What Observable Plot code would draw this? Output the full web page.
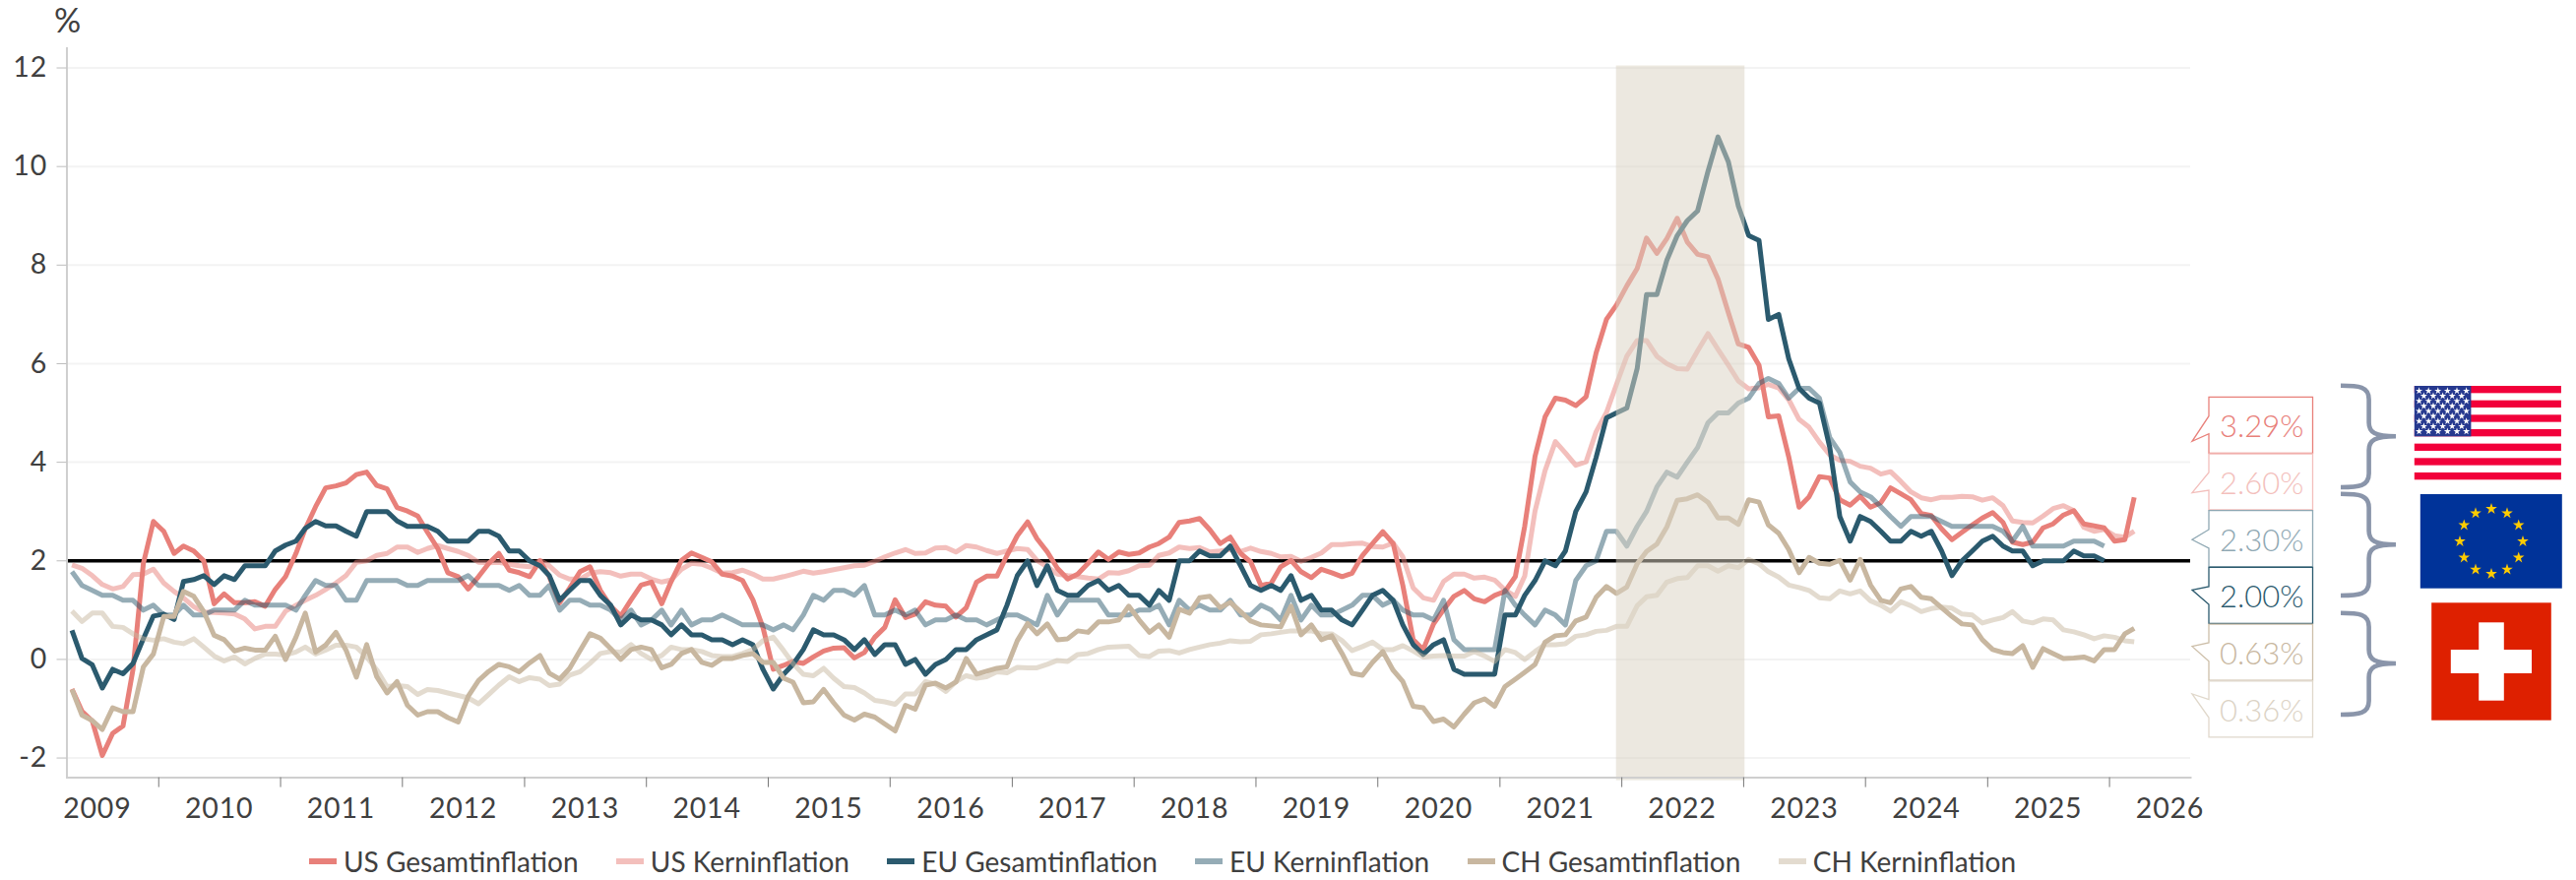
<!DOCTYPE html>
<html lang="de">
<head>
<meta charset="utf-8">
<title>Inflation</title>
<script src="https://cdn.jsdelivr.net/npm/d3@7"></script>
<script src="https://cdn.jsdelivr.net/npm/@observablehq/plot@0.6"></script>
<style>
html,body{margin:0;padding:0;background:#fff;overflow:hidden;width:2617px;height:894px}
#chart{position:relative;height:850px}
#chart svg{display:block}
#chart svg text{letter-spacing:.8px}
#legend{position:absolute;left:314px;top:856px;height:38px;display:flex;align-items:center;gap:38.3px;font:400 28px Lato,sans-serif;color:#404040;white-space:nowrap}
#legend .i{display:flex;align-items:center;gap:7px}
#legend .s{width:28px;height:6px;display:block}
</style>
</head>
<body>
<div id="chart"></div>
<div id="legend"></div>
<script>
// Monthly year-on-year rates, first value April 2009
const usTotal = [-0.6,-1.05,-1.25,-1.95,-1.5,-1.35,-0.2,1.95,2.8,
2.6,2.15,2.3,2.2,2.0,1.13,1.33,1.15,1.15,1.17,1.08,1.42,
1.68,2.15,2.65,3.1,3.48,3.52,3.58,3.75,3.8,3.53,3.46,3.08,
3.01,2.91,2.58,2.25,1.76,1.68,1.43,1.68,1.95,2.15,1.81,1.76,
1.68,2.0,1.68,1.15,1.45,1.78,1.88,1.4,1.08,.88,1.21,1.51,
1.57,1.13,1.58,2.01,2.16,2.07,1.98,1.73,1.69,1.6,1.21,.65,
-.2,-.12,-.04,-.08,.05,.17,.23,.24,.03,.14,.45,.65,
1.21,.85,.92,1.17,1.1,1.08,.86,1.05,1.57,1.69,1.69,2.11,
2.51,2.79,2.45,2.18,1.85,1.63,1.73,1.95,2.18,2.03,2.18,2.13,
2.16,2.28,2.35,2.48,2.78,2.81,2.86,2.63,2.35,2.48,2.15,1.98,
1.5,1.55,1.88,2.01,1.78,1.66,1.83,1.76,1.68,1.75,2.11,2.35,
2.59,2.35,1.5,.4,.2,.72,1.01,1.28,1.4,1.23,1.17,1.3,
1.38,1.68,2.7,4.12,4.92,5.3,5.26,5.15,5.33,6.22,6.9,7.19,
7.58,7.93,8.55,8.24,8.54,8.95,8.47,8.22,8.17,7.72,7.04,6.4,
6.33,5.97,4.92,4.94,4.11,3.09,3.3,3.71,3.68,3.24,3.13,3.31,
3.09,3.18,3.48,3.36,3.24,2.96,2.92,2.65,2.43,2.58,2.73,2.87,
2.98,2.78,2.38,2.33,2.38,2.67,2.75,2.93,3.02,2.75,2.71,2.67,
2.4,2.43,3.29];
const usCore = [1.92,1.85,1.7,1.52,1.43,1.48,1.72,1.73,1.83,
1.55,1.38,1.25,1.07,.96,.95,.94,.92,.82,.62,.67,.67,
.98,1.1,1.2,1.3,1.42,1.55,1.7,1.97,2.0,2.11,2.15,2.28,
2.28,2.17,2.25,2.31,2.25,2.19,2.11,1.97,1.96,1.97,1.93,1.9,
1.88,2.01,1.9,1.71,1.63,1.63,1.75,1.78,1.76,1.69,1.73,1.73,
1.63,1.57,1.61,1.83,1.95,1.93,1.85,1.75,1.76,1.81,1.73,1.63,
1.63,1.68,1.73,1.79,1.75,1.78,1.82,1.86,1.9,1.91,1.99,2.08,
2.16,2.23,2.15,2.16,2.26,2.27,2.18,2.31,2.28,2.21,2.15,2.2,
2.25,2.23,2.01,1.88,1.73,1.7,1.68,1.65,1.63,1.76,1.75,1.8,
1.9,1.91,2.11,2.16,2.28,2.25,2.27,2.18,2.2,2.23,2.19,2.26,
2.19,2.15,2.08,2.09,1.99,2.07,2.16,2.33,2.33,2.35,2.36,2.29,
2.28,2.36,2.08,1.45,1.25,1.2,1.58,1.73,1.73,1.65,1.67,1.61,
1.41,1.28,1.69,3.01,3.83,4.42,4.19,3.94,4.01,4.62,5.01,5.58,
6.15,6.47,6.47,6.15,6.0,5.9,5.89,6.26,6.61,6.29,5.97,5.65,
5.49,5.51,5.58,5.51,5.27,4.87,4.71,4.41,4.15,4.04,4.02,3.92,
3.88,3.76,3.81,3.61,3.4,3.28,3.24,3.29,3.29,3.31,3.3,3.23,
3.28,3.12,2.81,2.78,2.77,2.91,3.06,3.12,3.02,2.68,2.6,2.64,
2.51,2.48,2.6];
const euTotal = [.59,.02,-.11,-.58,-.2,-.29,-.08,.42,.88,
.92,.81,1.58,1.62,1.7,1.52,1.7,1.62,1.9,1.9,1.9,2.2,
2.32,2.4,2.66,2.8,2.71,2.71,2.6,2.5,3,3,3,2.81,
2.7,2.7,2.7,2.6,2.4,2.4,2.4,2.6,2.6,2.5,2.2,2.2,
2.0,1.9,1.7,1.2,1.4,1.6,1.6,1.3,1.1,.7,.9,.8,
.8,.7,.5,.7,.5,.5,.4,.4,.3,.4,.3,-.2,
-.6,-.3,-.1,.2,.6,.5,.5,.4,.2,.4,.1,.3,
.3,-.1,0,-.3,-.1,0,.2,.2,.4,.5,.6,1.1,
1.7,2.0,1.5,1.9,1.4,1.3,1.3,1.5,1.6,1.4,1.5,1.3,
1.3,1.1,1.4,1.2,2,2,2.2,2.1,2.1,2.3,1.9,1.5,
1.4,1.5,1.4,1.7,1.2,1.3,1,1,.8,.7,1,1.3,
1.4,1.2,.7,.3,.1,.3,.4,-.2,-.3,-.3,-.3,-.3,
.9,.9,1.3,1.6,2,1.9,2.2,3,3.4,4.1,4.9,5,
5.1,5.9,7.4,7.4,8.1,8.6,8.9,9.1,9.9,10.6,10.1,9.2,
8.6,8.5,6.9,7,6.1,5.5,5.3,5.2,4.3,2.9,2.4,2.9,
2.8,2.6,2.4,2.4,2.6,2.5,2.6,2.2,1.7,2,2.2,2.4,
2.5,2.3,2.2,2.2,1.9,2,2,2,2.2,2.1,2.1,2];
const euCore = [1.78,1.5,1.4,1.3,1.3,1.2,1.2,1,1.1,
.9,.9,1.1,.9,.9,1,1,1,1.2,1.1,1.1,1.1,
1.1,1,1.3,1.6,1.5,1.5,1.2,1.2,1.6,1.6,1.6,1.6,
1.5,1.5,1.6,1.6,1.6,1.6,1.7,1.5,1.5,1.5,1.4,1.5,
1.3,1.3,1.5,1,1.2,1.2,1.1,1.1,1,.8,1,.7,
.8,1,.7,1,.7,.8,.8,.9,.8,.7,.7,.7,
.6,.7,.6,.9,1.3,1.2,1.4,1.4,1.3,1.5,.9,.9,
1,.9,1,.7,.8,.8,.9,.8,.8,.7,.8,.9,
.9,.8,.7,1.3,.9,1.2,1.2,1.2,1.2,.9,.9,.9,
1,1,1.1,.7,1.2,1,1.1,1,1,1.2,.9,.9,
1.1,1,.8,1.3,.8,1.1,.9,.9,1,1.1,1.3,1.3,
1.1,1.2,1,.9,.9,.8,1.2,.4,.2,.2,.2,.2,
1.4,1.1,.9,.7,1,.9,.7,1.6,1.9,2,2.6,2.6,
2.3,2.7,3,3.5,3.8,3.7,4,4.3,4.8,5,5,5.2,
5.3,5.6,5.7,5.6,5.3,5.5,5.5,5.3,4.5,4.2,3.6,3.4,
3.3,3.1,2.9,2.7,2.9,2.9,2.9,2.8,2.7,2.7,2.7,2.7,
2.7,2.6,2.4,2.7,2.3,2.3,2.3,2.3,2.4,2.4,2.4,2.3];
const chTotal = [-.61,-1.13,-1.24,-1.42,-.98,-1.06,-1.06,-.15,.11,
.87,.87,1.38,1.28,.97,.49,.4,.17,.23,.19,.19,.47,
0,.45,.94,.15,.29,.55,.19,-.36,.3,-.35,-.68,-.45,
-.93,-1.13,-1.06,-1.06,-1.18,-1.27,-.75,-.43,-.24,-.1,-.15,-.25,
-.07,.08,-.28,-.4,-.18,.18,.52,.43,.22,0,.2,.25,
.2,-.17,-.1,.12,.2,-.06,-.12,.02,.02,.08,.12,-.06,
-.06,-.38,-.46,-.88,-.86,-.61,-.88,-1.13,-1.23,-1.11,-1.17,-1.31,
-1.45,-.93,-1.01,-.52,-.48,-.58,-.46,.02,-.3,-.24,-.18,-.15,
.38,.73,.52,.72,.4,.42,.58,.55,.76,.76,.8,1.08,
.8,.55,.7,.45,1.02,.94,1.25,1.28,1.05,1.16,.97,.78,
.7,.68,.66,1.08,.5,.7,.4,.48,.12,-.28,-.32,-.06,
.16,-.22,-.45,-.95,-.98,-1.26,-1.21,-1.37,-1.11,-.88,-.8,-.95,
-.55,-.4,-.26,-.1,.35,.48,.5,.78,.86,1.26,1.48,1.34,
1.47,1.94,2.19,2.34,2.69,3.23,3.26,3.34,3.19,2.87,2.87,2.74,
3.24,3.19,2.73,2.56,2.23,1.76,2.07,1.95,1.93,2.01,1.61,2.03,
1.51,1.2,1.15,1.43,1.48,1.26,1.23,1.05,.87,.72,.7,.4,
.2,.14,.12,.28,-.16,.22,.12,.02,.03,.05,-.03,.2,
.2,.52,.63];
const chCore = [.98,.77,.94,.94,.67,.65,.52,.42,.39,
.42,.35,.32,.42,.25,.07,-.03,.05,-.09,.02,.11,.11,
.09,.15,.25,.11,.19,.29,.29,.25,.05,-.21,-.55,-.53,
-.55,-.71,-.61,-.63,-.68,-.73,-.78,-.9,-.71,-.52,-.35,-.45,
-.37,-.4,-.53,-.5,-.32,-.25,-.08,.12,.16,.15,.3,.12,
0,.08,.25,.2,.2,.16,.08,.06,.06,.12,.2,.38,
.45,.18,-.08,-.3,-.33,-.18,-.38,-.55,-.57,-.68,-.83,-.86,
-.91,-.7,-.7,-.45,-.5,-.65,-.45,-.33,-.38,-.35,-.25,-.27,
-.16,-.17,-.17,-.1,-.02,-.04,.1,.12,.2,.25,.26,.27,
.08,.06,.17,.18,.13,.2,.25,.3,.33,.38,.36,.37,
.5,.52,.55,.58,.58,.58,.52,.52,.38,.18,.26,.35,
.2,.2,.28,.17,.05,.07,.08,.07,.07,.16,.07,-.04,
.2,.14,0,.16,.3,.3,.32,.47,.5,.57,.59,.67,
.67,1.09,1.27,1.3,1.57,1.64,1.66,1.9,1.9,1.79,1.9,1.86,
2.03,1.94,1.78,1.67,1.51,1.46,1.4,1.25,1.23,1.39,1.33,1.39,
1.19,1.1,.98,1.17,1.09,.97,1.03,1.06,1.04,.92,.9,.74,
.8,.85,.97,.78,.74,.82,.8,.6,.56,.5,.42,.48,
.45,.38,.36];

const seriesNames = ["US Gesamtinflation","US Kerninflation","EU Gesamtinflation","EU Kerninflation","CH Gesamtinflation","CH Kerninflation"];
const seriesValues = [usTotal,usCore,euTotal,euCore,chTotal,chCore];
const seriesColors = ["#e8807a","#e8807a","#2b5a6e","#2b5a6e","#c8b7a0","#c8b7a0"];
const seriesOpacity = [1,.5,1,.5,1,.5];
const legendColors = ["#e8807a","#f3bfbc","#2b5a6e","#95acb6","#c8b7a0","#e3dbcf"];
const calloutLabels = ["3.29%","2.60%","2.30%","2.00%","0.63%","0.36%"];
const calloutColors = ["#e8807a","#f3bfbc","#8fa8b3","#2b5a6e","#cdbfa9","#e0d8cb"];
const calloutText = ["#e8807a","#f3bfbc","#8fa8b3","#2b5a6e","#c8b7a0","#dcd3c5"];
const yTicks = [-2,0,2,4,6,8,10,12];
const years = d3.range(2009,2027);
const target = 2;
const shadeStart = new Date(Date.UTC(2021,11,16));
const shadeEnd = new Date(Date.UTC(2023,0,5));

const monthDate = i => new Date(Date.UTC(2009,3+i,16));
const utc = (y,m) => new Date(Date.UTC(y,m,1));
const tickDates = years.slice(1).map(y => utc(y,0));
const labelDates = years.map(y => utc(y,6));

// Layout of the annotation column on the right (pixels)
const box = {x:2244,w:105.5,top:403.3,step:57.7,h:57};
const tipX = 2227;
const tips = [[448.3,422.7,440.7],[500.7,480,498],[548.3,538,557],[599.3,596,614],[656.7,653,671.7],[705,710.7,729]];
const braces = [[391.7,443.3,495],[501.7,553.3,605],[622.7,674,726]];

function annotations(index, scales, values, dim, ctx){
  const g = d3.select(ctx.document.createElementNS("http://www.w3.org/2000/svg","g"));
  calloutLabels.forEach((lab,k)=>{
    const t = box.top + k*box.step, b = t + box.h, [ty,b1,b2] = tips[k], x0 = box.x, x1 = box.x+box.w;
    g.append("path")
      .attr("d",`M${x0},${t}H${x1}V${b}H${x0}V${b2}L${tipX},${ty}L${x0},${b1}Z`)
      .attr("fill","#fff").attr("stroke",calloutColors[k]).attr("stroke-width",1.3);
    g.append("text").attr("x",x0+(x1-x0)/2+1).attr("y",t+box.h/2+0.5)
      .attr("text-anchor","middle").attr("dominant-baseline","central").style("letter-spacing","0")
      .attr("font-size",31).attr("font-weight",300).attr("fill",calloutText[k]).text(lab);
  });
  braces.forEach(([t,m,b])=>{
    const xl=2378,xs=2406.6,xr=2434;
    g.append("path").attr("fill","none").attr("stroke","#8a95aa").attr("stroke-width",4.6)
     .attr("d",`M${xl},${t}C${xs-10},${t} ${xs},${t+1} ${xs},${t+14}V${m-14}C${xs},${m-4} ${xs+6},${m} ${xr},${m}C${xs+6},${m} ${xs},${m+4} ${xs},${m+14}V${b-14}C${xs},${b-1} ${xs-10},${b} ${xl},${b}`);
  });
  const us = {x:2452.8,y:392,w:149.1,h:95.3};
  g.append("rect").attr("x",us.x).attr("y",us.y).attr("width",us.w).attr("height",us.h).attr("fill","#fff");
  for(let s=0;s<13;s+=2) g.append("rect").attr("x",us.x).attr("y",us.y+s*us.h/13).attr("width",us.w).attr("height",us.h/13).attr("fill","#f2003a");
  const cw=57.6, ch=us.h*7/13;
  g.append("rect").attr("x",us.x).attr("y",us.y).attr("width",cw).attr("height",ch).attr("fill","#26398f");
  const smallStar = d3.symbol(d3.symbolStar,16)();
  for(let r=0;r<9;r++){
    const n = r%2?5:6;
    for(let c=0;c<n;c++){
      g.append("path").attr("d",smallStar).attr("fill","#fff")
       .attr("transform",`translate(${us.x+(r%2?2:1)*cw/12+c*cw/6},${us.y+(r+1)*ch/10})`);
    }
  }
  g.append("rect").attr("x",2458.8).attr("y",502).attr("width",144).attr("height",95.7).attr("fill","#003399");
  const euStar = d3.symbol(d3.symbolStar,42)();
  for(let k=0;k<12;k++){
    const a = k*Math.PI/6;
    g.append("path").attr("d",euStar).attr("fill","#ffcc00")
     .attr("transform",`translate(${2531+32*Math.sin(a)},${550-33*Math.cos(a)})`);
  }
  g.append("rect").attr("x",2470.2).attr("y",612.3).attr("width",121.6).attr("height",119.4).attr("fill","#de2000");
  g.append("rect").attr("x",2489.8).attr("y",660).attr("width",82.2).attr("height",24).attr("fill","#fff");
  g.append("rect").attr("x",2518.2).attr("y",632.3).attr("width",25.6).attr("height",79.4).attr("fill","#fff");
  return g.node();
}

const lineMarks = seriesValues.map((vals,k)=>Plot.line(vals.map((v,i)=>({date:monthDate(i),v})),{
  x:"date",y:"v",stroke:seriesColors[k],strokeOpacity:seriesOpacity[k],strokeWidth:5,strokeLinecap:"butt",strokeLinejoin:"round"
}));

const plot = Plot.plot({
  width:2617,height:850,
  marginLeft:67.5,marginRight:392,marginTop:48.5,marginBottom:60.4,
  style:{fontFamily:"Lato, sans-serif",color:"#404040",background:"#fff",overflow:"visible"},
  x:{type:"utc",domain:[utc(2009,3),utc(2026,8)]},
  y:{domain:[-2.4,12.4]},
  marks:[
    Plot.ruleY(yTicks,{stroke:"#f3f3f3",strokeWidth:2}),
    Plot.ruleY([target],{stroke:"#000",strokeWidth:3.5}),
    ...lineMarks,
    Plot.rect([{x1:shadeStart,x2:shadeEnd,y1:-2.46,y2:12.04}],{x1:"x1",x2:"x2",y1:"y1",y2:"y2",fill:"#dbd3c4",fillOpacity:.52}),
    Plot.frame({anchor:"left",stroke:"#cfcfcf",strokeWidth:2}),
    Plot.frame({anchor:"bottom",stroke:"#cfcfcf",strokeWidth:2}),
    Plot.axisY(yTicks,{anchor:"left",tickSize:10,tickPadding:10,fontSize:28.5,stroke:"#bdbdbd",tickFormat:d=>String(d),label:null}),
    Plot.axisX(tickDates,{anchor:"bottom",tickSize:10,stroke:"#777",fill:"none",label:null,tickFormat:()=>""}),
    Plot.axisX(labelDates,{anchor:"bottom",tickSize:0,tickPadding:21,fontSize:28.5,tickFormat:d=>String(d.getUTCFullYear()),label:null}),
    Plot.text(["%"],{frameAnchor:"top-left",dx:-13,dy:-40,fontSize:34,textAnchor:"start",lineAnchor:"top",fill:"#404040"}),
    annotations
  ]
});
document.getElementById("chart").append(plot);

const leg = d3.select("#legend");
seriesNames.forEach((n,k)=>{
  const it = leg.append("div").attr("class","i");
  it.append("span").attr("class","s").style("background",legendColors[k]);
  it.append("span").text(n);
});
</script>
</body>
</html>
